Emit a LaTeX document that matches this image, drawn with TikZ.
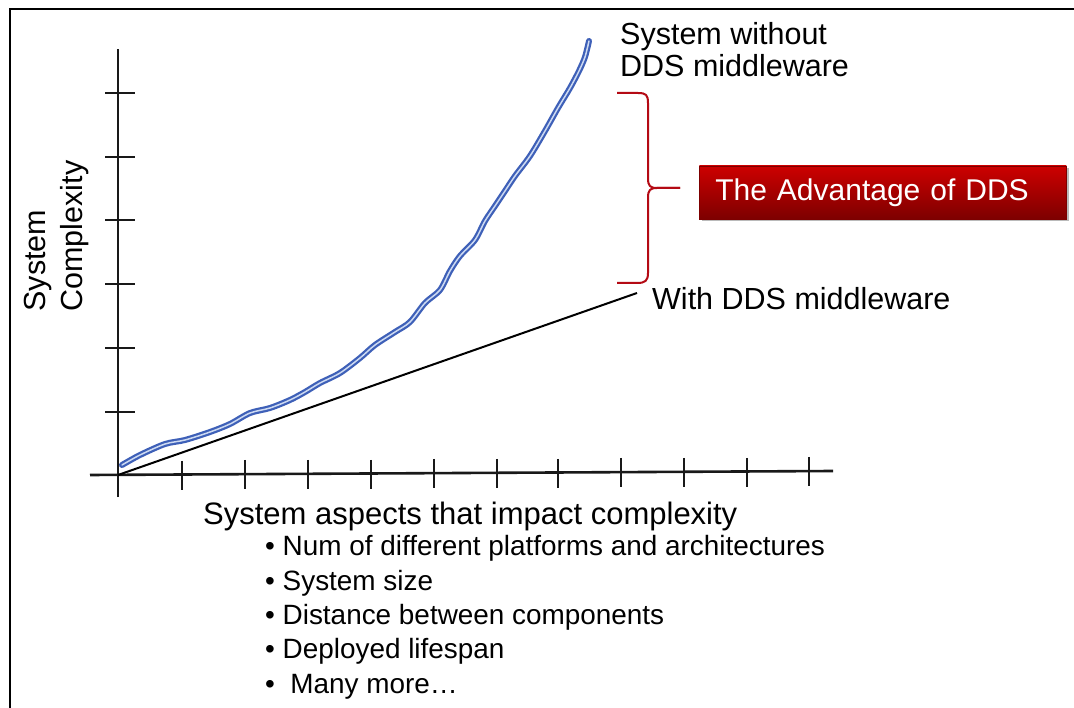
\documentclass[tikz,border=0pt]{standalone}
\usepackage{fontspec}
\setmainfont{Liberation Sans}
\usetikzlibrary{shadows}
\definecolor{curveblue}{RGB}{62,96,184}
\definecolor{curvelight}{RGB}{205,218,242}
\definecolor{bracered}{RGB}{180,10,20}
\definecolor{boxtop}{RGB}{205,0,0}
\definecolor{boxbot}{RGB}{125,0,0}
\definecolor{axisgray}{RGB}{25,25,25}
\begin{document}
\begin{tikzpicture}[x=1pt,y=-1pt,
  axisline/.style={line width=2.6pt,axisgray},
  tickline/.style={line width=1.5pt,axisgray},
  label/.style={inner sep=0pt,font=\fontsize{30.5}{32}\selectfont},
  notes/.style={inner sep=0pt,align=left,font=\fontsize{27.9}{34.3}\selectfont},
  redbox/.style={top color=boxtop,bottom color=boxbot,draw=boxbot,line width=0.6pt,
    drop shadow={shadow xshift=2.5pt,shadow yshift=-2.5pt,fill=black!45,opacity=0.6},
    text width=335pt,align=left,minimum height=53pt,inner xsep=16pt,inner ysep=0pt,
    text=white,font=\fontsize{30}{32}\selectfont},
  bracket/.style={line width=2pt,bracered,line join=round}]
\useasboundingbox (0,0) rectangle (1074,708);
\fill[white] (0,0) rectangle (1074,708);

% frame
\draw[line width=2.4pt] (10,708) -- (10,9) -- (1074,9);

% axes
\coordinate (origin) at (118,475);
\coordinate (ytop) at (118,49);
\coordinate (ybot) at (118,497);
\coordinate (xleft) at (90,475);
\coordinate (xright) at (833,471);
\draw[axisline] (ybot) -- (ytop);
\draw[axisline] (xleft) -- (xright);
\foreach \y in {93,157,220,284,348,412}
  \draw[tickline] (105,\y) -- (135,\y);
\foreach \x/\yy in {182/475,245/474,308/474,371/474,434/473,497/473,558/473,621/472,684/472,747/472,809/471}
  \draw[tickline] (\x,\yy-14) -- (\x,\yy+15);

% linear growth with middleware
\coordinate (lineend) at (637,293);
\draw[line width=2pt,black] (origin) -- (lineend);

% growth without middleware
\draw[line width=6pt,curveblue,line cap=round,
      postaction={draw=curvelight,line width=1.5pt}]
  plot[smooth,tension=0.5] coordinates {
   (122,465) (140,455) (165,444) (185,440) (210,432) (230,424) (250,413)
   (270,408) (290,400) (305,392) (320,383) (340,373) (360,358) (375,345)
   (395,332) (410,322) (425,303) (440,290) (450,271) (460,256) (475,240)
   (485,221) (495,206) (505,191) (515,176) (530,156) (545,131) (558,108)
   (570,88) (579,71) (585,57) (589,41)};

% labels
\node[label,anchor=base west,align=left] (without) at (620,77)
  {System without\\DDS middleware};
\node[label,anchor=base west] (with) at (652,310) {With DDS middleware};

\node[label,rotate=90,align=left,font=\fontsize{30.5}{37}\selectfont] (ylabel) at (57,236)
  {System\\Complexity};

\node[label,anchor=base west,font=\fontsize{31}{32}\selectfont] (xlabel) at (203,524)
  {System aspects that impact complexity};
\node[notes,anchor=base west] (aspects) at (265,693)
  {\textbullet\ Num of different platforms and architectures\\
   \textbullet\ System size\\
   \textbullet\ Distance between components\\
   \textbullet\ Deployed lifespan\\
   \textbullet\ \ Many more…};

% bracket and callout
\coordinate (btop) at (617,93);
\coordinate (bbot) at (617,283);
\coordinate (btip) at (680,188);
\draw[bracket] (btop) -- (638,93) .. controls (646,93) and (648,95) .. (648,103)
  -- (648,178) .. controls (648,186) and (650,188) .. (657,188) -- (btip);
\draw[bracket] (btip) -- (657,188) .. controls (650,188) and (648,190) .. (648,198)
  -- (648,273) .. controls (648,281) and (645,283) .. (637,283) -- (bbot);
\node[redbox,anchor=west] (advantage) at (699,192.5) {The Advantage of DDS};
\end{tikzpicture}
\end{document}
